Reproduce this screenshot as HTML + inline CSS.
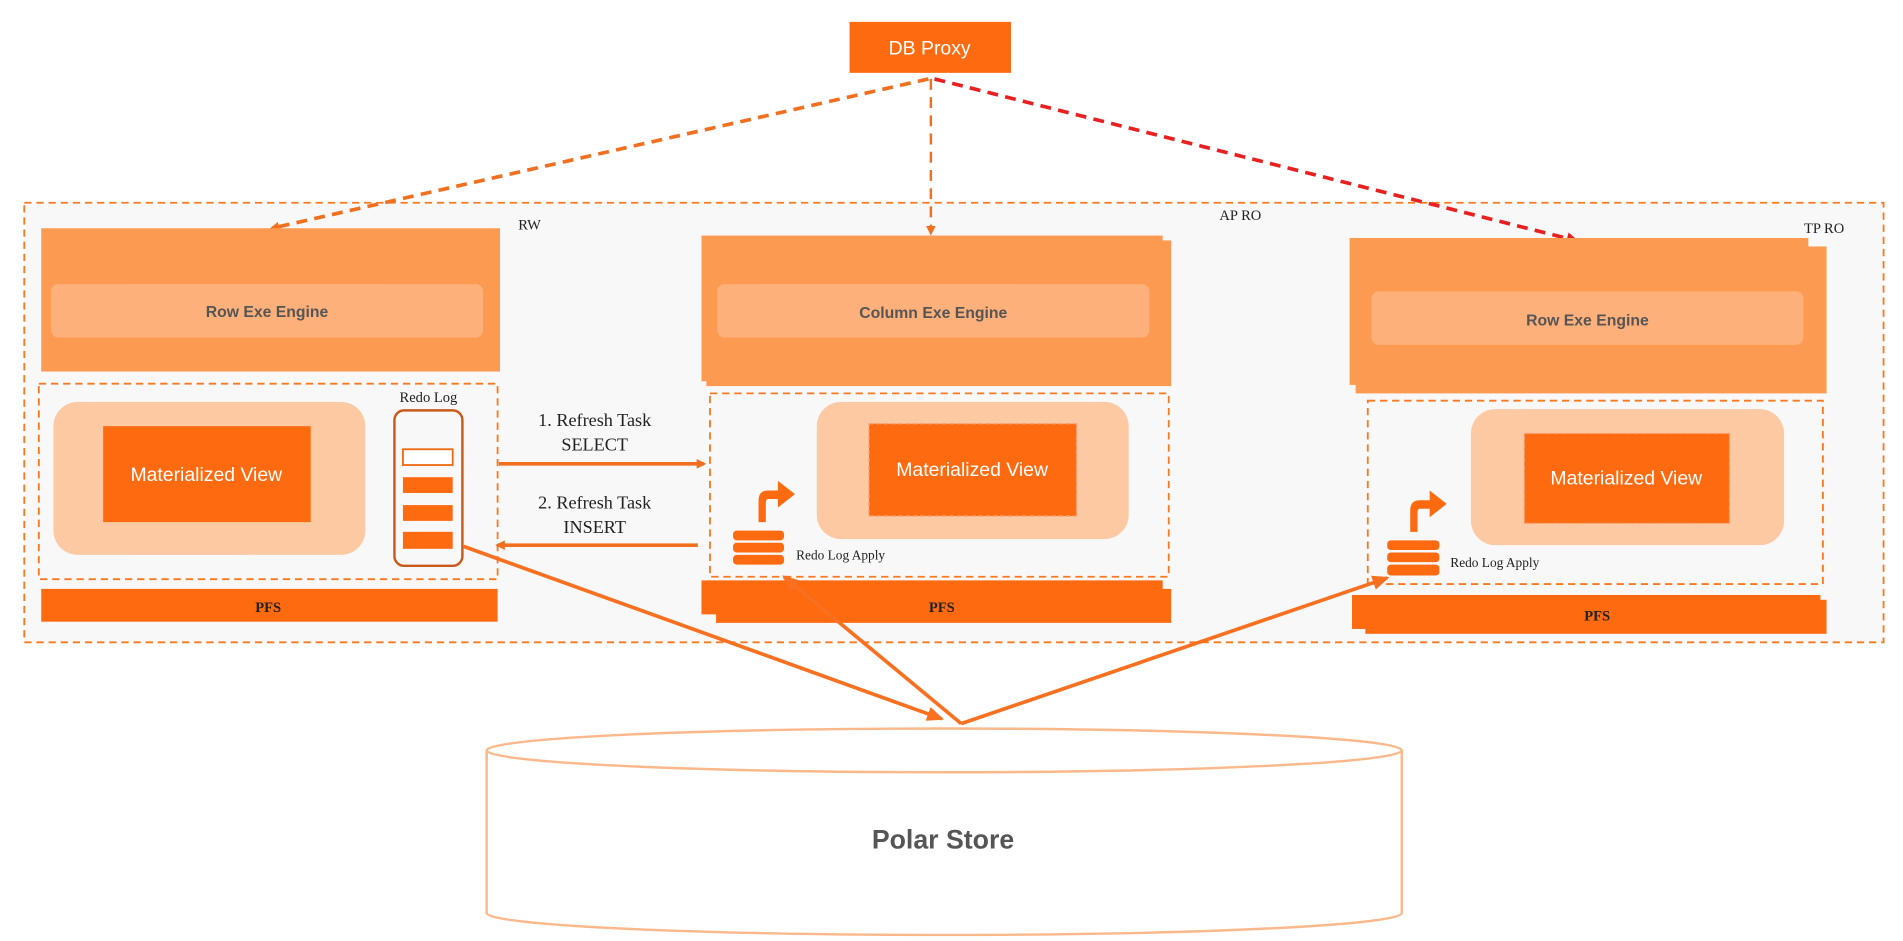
<!DOCTYPE html>
<html><head><meta charset="utf-8"><style>
html,body{margin:0;padding:0;background:#fff;}
svg{display:block;}
.s{font-family:"Liberation Sans",sans-serif;}
.r{font-family:"Liberation Serif",serif;}
</style></head><body>
<svg width="1903" height="941" viewBox="0 0 1568 775" preserveAspectRatio="none" xmlns="http://www.w3.org/2000/svg">
<defs>
<marker id="ao" markerWidth="8" markerHeight="8" refX="6" refY="4" orient="auto" markerUnits="userSpaceOnUse"><path d="M0,0 L8,4 L0,8 z" fill="#f07020"/></marker>
<marker id="ar" markerWidth="10" markerHeight="10" refX="7" refY="5" orient="auto" markerUnits="userSpaceOnUse"><path d="M0,0 L10,5 L0,10 z" fill="#e82020"/></marker>
<marker id="as" markerWidth="14" markerHeight="12" refX="12" refY="6" orient="auto" markerUnits="userSpaceOnUse"><path d="M0,0 L14,6 L0,12 z" fill="#f87020"/></marker>
</defs>
<!-- outer box -->
<rect x="20" y="167" width="1532" height="362" fill="#f8f8f8" stroke="#f87a20" stroke-width="1.5" stroke-dasharray="6,4"/>
<!-- DB proxy -->
<rect x="700" y="18" width="133" height="42" fill="#fd6a10"/>
<text x="766" y="45" class="s" font-size="16" fill="#fff" text-anchor="middle">DB Proxy</text>
<!-- dashed arrows -->
<line x1="765" y1="65" x2="224" y2="188" stroke="#f07020" stroke-width="3" stroke-dasharray="9,6" marker-end="url(#ao)"/>
<line x1="767" y1="65" x2="767" y2="192" stroke="#f07020" stroke-width="2" stroke-dasharray="9,6" marker-end="url(#ao)"/>
<line x1="770" y1="65" x2="1298" y2="198" stroke="#e82020" stroke-width="3" stroke-dasharray="9,6" marker-end="url(#ar)"/>
<!-- RW -->
<rect x="34" y="188" width="378" height="118" fill="#fd9a52"/>
<rect x="42" y="234" width="356" height="44" rx="6" fill="#fdb07a"/>
<text x="220" y="261" class="s" font-size="13" font-weight="bold" fill="#555" text-anchor="middle">Row Exe Engine</text>
<text x="427" y="189" class="r" font-size="12" fill="#222">RW</text>
<rect x="32" y="316" width="378" height="161" fill="none" stroke="#f87a20" stroke-width="1.5" stroke-dasharray="6,4"/>
<rect x="44" y="331" width="257" height="126" rx="20" fill="#fdc9a2"/>
<rect x="85" y="351" width="171" height="79" fill="#fd6a10"/>
<text x="170" y="396" class="s" font-size="16" fill="#fff" text-anchor="middle">Materialized View</text>
<text x="353" y="331" class="r" font-size="12" fill="#222" text-anchor="middle">Redo Log</text>
<rect x="325" y="338" width="56" height="128" rx="8" fill="none" stroke="#c85a1a" stroke-width="2"/>
<rect x="332" y="370" width="41" height="13" fill="#fff" stroke="#f06a10" stroke-width="1.5"/>
<rect x="332" y="393" width="41" height="13" fill="#fd6a10"/>
<rect x="332" y="416" width="41" height="13" fill="#fd6a10"/>
<rect x="332" y="438" width="41" height="14" fill="#fd6a10"/>
<rect x="34" y="485" width="376" height="27" fill="#fd6a10"/>
<text x="221" y="504" class="r" font-size="12" font-weight="bold" fill="#222" text-anchor="middle">PFS</text>
<!-- refresh arrows -->
<line x1="411" y1="382" x2="580" y2="382" stroke="#f07020" stroke-width="3" marker-end="url(#ao)"/>
<line x1="575" y1="449" x2="410" y2="449" stroke="#f07020" stroke-width="3" marker-end="url(#ao)"/>
<text x="490" y="351" class="r" font-size="15" fill="#222" text-anchor="middle">1. Refresh Task</text>
<text x="490" y="371" class="r" font-size="15" fill="#222" text-anchor="middle">SELECT</text>
<text x="490" y="419" class="r" font-size="15" fill="#222" text-anchor="middle">2. Refresh Task</text>
<text x="490" y="439" class="r" font-size="15" fill="#222" text-anchor="middle">INSERT</text>
<!-- AP RO -->
<rect x="582" y="198" width="383" height="120" fill="#fd9a52"/>
<rect x="578" y="194" width="380" height="120" fill="#fd9a52"/>
<rect x="591" y="234" width="356" height="44" rx="6" fill="#fdb07a"/>
<text x="769" y="262" class="s" font-size="13" font-weight="bold" fill="#555" text-anchor="middle">Column Exe Engine</text>
<text x="1022" y="181" class="r" font-size="12" fill="#222" text-anchor="middle">AP RO</text>
<rect x="585" y="324" width="378" height="151" fill="none" stroke="#f87a20" stroke-width="1.5" stroke-dasharray="6,4"/>
<rect x="673" y="331" width="257" height="113" rx="20" fill="#fdc9a2"/>
<rect x="716" y="349" width="171" height="76" fill="#fd6a10" stroke="#f9a070" stroke-dasharray="4,2"/>
<text x="801" y="392" class="s" font-size="16" fill="#fff" text-anchor="middle">Materialized View</text>
<path d="M625,430 L625,412 Q625,404 633,404 L641,404 L641,396 L655,407 L641,418 L641,411 L633,411 Q631,411 631,414 L631,430 z" fill="#fd6a10"/>
<rect x="604" y="437" width="42" height="8" rx="3" fill="#fd6a10"/>
<rect x="604" y="447" width="42" height="8" rx="3" fill="#fd6a10"/>
<rect x="604" y="457" width="42" height="8" rx="3" fill="#fd6a10"/>
<text x="656" y="461" class="r" font-size="11" fill="#222">Redo Log Apply</text>
<rect x="578" y="478" width="380" height="28" fill="#fd6a10"/>
<rect x="590" y="485" width="375" height="28" fill="#fd6a10"/>
<text x="776" y="504" class="r" font-size="12" font-weight="bold" fill="#222" text-anchor="middle">PFS</text>
<!-- TP RO -->
<rect x="1117" y="203" width="388" height="121" fill="#fd9a52"/>
<rect x="1112" y="196" width="378" height="121" fill="#fd9a52"/>
<rect x="1130" y="240" width="356" height="44" rx="6" fill="#fdb07a"/>
<text x="1308" y="268" class="s" font-size="13" font-weight="bold" fill="#555" text-anchor="middle">Row Exe Engine</text>
<text x="1503" y="192" class="r" font-size="12" fill="#222" text-anchor="middle">TP RO</text>
<rect x="1127" y="330" width="375" height="151" fill="none" stroke="#f87a20" stroke-width="1.5" stroke-dasharray="6,4"/>
<rect x="1212" y="337" width="258" height="112" rx="20" fill="#fdc9a2"/>
<rect x="1256" y="357" width="169" height="74" fill="#fd6a10" stroke="#f9a070" stroke-dasharray="4,2"/>
<text x="1340" y="399" class="s" font-size="16" fill="#fff" text-anchor="middle">Materialized View</text>
<path d="M1162,438 L1162,420 Q1162,412 1170,412 L1178,412 L1178,404 L1192,415 L1178,426 L1178,419 L1170,419 Q1168,419 1168,422 L1168,438 z" fill="#fd6a10"/>
<rect x="1143" y="445" width="43" height="8" rx="3" fill="#fd6a10"/>
<rect x="1143" y="455" width="43" height="8" rx="3" fill="#fd6a10"/>
<rect x="1143" y="465" width="43" height="9" rx="3" fill="#fd6a10"/>
<text x="1195" y="467" class="r" font-size="11" fill="#222">Redo Log Apply</text>
<rect x="1114" y="490" width="386" height="28" fill="#fd6a10"/>
<rect x="1125" y="494" width="380" height="28" fill="#fd6a10"/>
<text x="1316" y="511" class="r" font-size="12" font-weight="bold" fill="#222" text-anchor="middle">PFS</text>
<!-- cylinder -->
<path d="M401,618 L401,752 A377,18 0 0 0 1155,752 L1155,618" fill="#fff" stroke="#fbb88a" stroke-width="2"/>
<ellipse cx="778" cy="618" rx="377" ry="18" fill="#fff" stroke="#fbb88a" stroke-width="2"/>
<text x="777" y="699" class="s" font-size="22" font-weight="bold" fill="#555" text-anchor="middle">Polar Store</text>
<!-- solid arrows -->
<line x1="382" y1="450" x2="776" y2="592" stroke="#f87020" stroke-width="3" marker-end="url(#as)"/>
<line x1="792" y1="596" x2="646" y2="475" stroke="#f87020" stroke-width="3" marker-end="url(#as)"/>
<line x1="792" y1="596" x2="1143" y2="476" stroke="#f87020" stroke-width="3" marker-end="url(#as)"/>
</svg>
</body></html>
